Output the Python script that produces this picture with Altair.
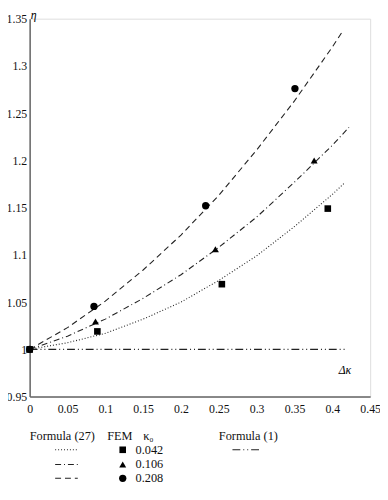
import altair as alt
import pandas as pd

FONT = "Liberation Serif"

# ---- data ----
kappa_labels = ["0.042", "0.106", "0.208"]

# Formula (27) curves
curve_x_042 = [0, 0.05, 0.1, 0.15, 0.2, 0.25, 0.3, 0.35, 0.4, 0.416]
curve_y_042 = [1.0, 1.007, 1.017, 1.032, 1.050, 1.073, 1.099, 1.130, 1.164, 1.176]
curve_x_106 = [0, 0.05, 0.1, 0.15, 0.2, 0.25, 0.3, 0.35, 0.4, 0.422]
curve_y_106 = [1.0, 1.014, 1.032, 1.054, 1.079, 1.108, 1.140, 1.177, 1.216, 1.235]
curve_x_208 = [0, 0.05, 0.1, 0.15, 0.2, 0.25, 0.3, 0.35, 0.4, 0.413]
curve_y_208 = [1.0, 1.023, 1.051, 1.084, 1.121, 1.163, 1.211, 1.263, 1.320, 1.336]

# FEM points
fem_x_042 = [0, 0.0895, 0.254, 0.394]
fem_y_042 = [1.0, 1.019, 1.069, 1.149]
fem_x_106 = [0, 0.087, 0.2455, 0.376]
fem_y_106 = [1.0, 1.0295, 1.106, 1.200]
fem_x_208 = [0, 0.085, 0.2326, 0.3506]
fem_y_208 = [1.0, 1.0455, 1.152, 1.276]

# Formula (1)
f1_x = [0, 0.42]
f1_y = [1.0, 1.0]

x_ticks = [0, 0.05, 0.1, 0.15, 0.2, 0.25, 0.3, 0.35, 0.4, 0.45]
y_ticks = [0.95, 1.0, 1.05, 1.1, 1.15, 1.2, 1.25, 1.3, 1.35]

# legend layout (in data units, placed under the x axis)
leg_header_text = ["Formula (27)", "FEM", "κ₀", "Formula (1)"]
leg_header_x = [0.0, 0.1025, 0.150, 0.250]
leg_header_y = [0.9083, 0.9083, 0.9083, 0.9083]
leg_row_y = [0.8937, 0.8781, 0.8635]
leg_line_x = [0.0337, 0.0636]
leg_marker_x = 0.123
leg_value_x = 0.140
leg_f1_x = [0.268, 0.307]

# ---- tables ----
curves = pd.concat([
    pd.DataFrame({"x": curve_x_042, "y": curve_y_042, "k": "0.042"}),
    pd.DataFrame({"x": curve_x_106, "y": curve_y_106, "k": "0.106"}),
    pd.DataFrame({"x": curve_x_208, "y": curve_y_208, "k": "0.208"}),
])
fem = pd.concat([
    pd.DataFrame({"x": fem_x_208, "y": fem_y_208, "k": "0.208", "o": 0}),
    pd.DataFrame({"x": fem_x_106, "y": fem_y_106, "k": "0.106", "o": 1}),
    pd.DataFrame({"x": fem_x_042, "y": fem_y_042, "k": "0.042", "o": 2}),
])
f1 = pd.DataFrame({"x": f1_x, "y": f1_y})

leg_lines = pd.DataFrame({"x": [leg_line_x[0]] * 3, "x2": [leg_line_x[1]] * 3,
                          "y": leg_row_y, "k": kappa_labels})
leg_marks = pd.DataFrame({"x": [leg_marker_x] * 3, "y": leg_row_y, "k": kappa_labels})
leg_vals = pd.DataFrame({"x": [leg_value_x] * 3, "y": leg_row_y, "t": kappa_labels})
leg_head = pd.DataFrame({"x": leg_header_x, "y": leg_header_y, "t": leg_header_text})
leg_f1 = pd.DataFrame({"x": [leg_f1_x[0]], "x2": [leg_f1_x[1]], "y": [leg_row_y[0]]})

xs = alt.Scale(domain=[0, 0.45], nice=False, zero=False)
ys = alt.Scale(domain=[0.95, 1.35], nice=False, zero=False)

x_axis = alt.Axis(
    values=x_ticks, format=".2~f", title=None, grid=False, ticks=False,
    domainColor="#666", domainWidth=1.5, labelFont=FONT, labelFontSize=12,
    labelColor="#111", labelPadding=7, labelFlush=False, labelOverlap=False)
y_axis = alt.Axis(
    values=y_ticks, format=".2~f", title=None, grid=False, ticks=False,
    domainColor="#666", domainWidth=1.5, labelFont=FONT, labelFontSize=12,
    labelColor="#111", labelPadding=3, labelFlush=False, labelOverlap=False)
X = alt.X("x:Q", scale=xs, axis=x_axis)
Y = alt.Y("y:Q", scale=ys, axis=y_axis)

dash_scale = alt.Scale(domain=kappa_labels, range=[[1, 2], [6, 3, 1, 3], [6, 4]])
shape_scale = alt.Scale(domain=kappa_labels, range=["square", "triangle-up", "circle"])
size_scale = alt.Scale(domain=kappa_labels, range=[45, 55, 45])

f1_line = alt.Chart(f1).mark_line(color="#222", strokeWidth=1.1,
                                 strokeDash=[8, 3, 1, 3, 1, 3]).encode(x=X, y=Y)

lines = alt.Chart(curves).mark_line(color="#222", strokeWidth=1.1).encode(
    x=X, y=Y, detail="k:N",
    strokeDash=alt.StrokeDash("k:N", scale=dash_scale, legend=None))

points = alt.Chart(fem).mark_point(filled=True, color="black", opacity=1).encode(
    x=X, y=Y, order="o:Q",
    shape=alt.Shape("k:N", scale=shape_scale, legend=None),
    size=alt.Size("k:N", scale=size_scale, legend=None))

eta = alt.Chart(pd.DataFrame({"t": ["η"]})).mark_text(
    font=FONT, fontSize=12, fontStyle="italic", align="left", baseline="alphabetic"
).encode(x=alt.value(1), y=alt.value(0), text="t:N")

dk = alt.Chart(pd.DataFrame({"t": ["Δκ"]})).mark_text(
    font=FONT, fontSize=12, fontStyle="italic", align="left", baseline="middle"
).encode(x=alt.value(314), y=alt.value(357), text="t:N")

leg_l = alt.Chart(leg_lines).mark_rule(color="#222", strokeWidth=1.1).encode(
    x=X, x2="x2:Q", y=Y,
    strokeDash=alt.StrokeDash("k:N", scale=dash_scale, legend=None))
leg_m = alt.Chart(leg_marks).mark_point(filled=True, color="black", opacity=1).encode(
    x=X, y=Y,
    shape=alt.Shape("k:N", scale=shape_scale, legend=None),
    size=alt.Size("k:N", scale=size_scale, legend=None))
leg_v = alt.Chart(leg_vals).mark_text(font=FONT, fontSize=12.5, align="left", baseline="middle",
                                       color="#111").encode(x=X, y=Y, text="t:N")
leg_h = alt.Chart(leg_head).mark_text(font=FONT, fontSize=12.5, align="left", baseline="middle",
                                       color="#111").encode(x=X, y=Y, text="t:N")
leg_f = alt.Chart(leg_f1).mark_rule(color="#222", strokeWidth=1.1,
                                    strokeDash=[8, 3, 1, 3, 1, 3]).encode(x=X, x2="x2:Q", y=Y)

chart = alt.layer(f1_line, lines, points, eta, dk, leg_l, leg_m, leg_v, leg_h, leg_f).properties(
    width=346, height=384,
    autosize=alt.AutoSizeParams(type="none"),
    padding={"left": 22, "top": 7, "right": 10, "bottom": 89},
).configure_view(stroke="#666", strokeWidth=1.5).configure(background="white")

chart.save("out.html", embed_options={"renderer": "svg", "actions": False})
